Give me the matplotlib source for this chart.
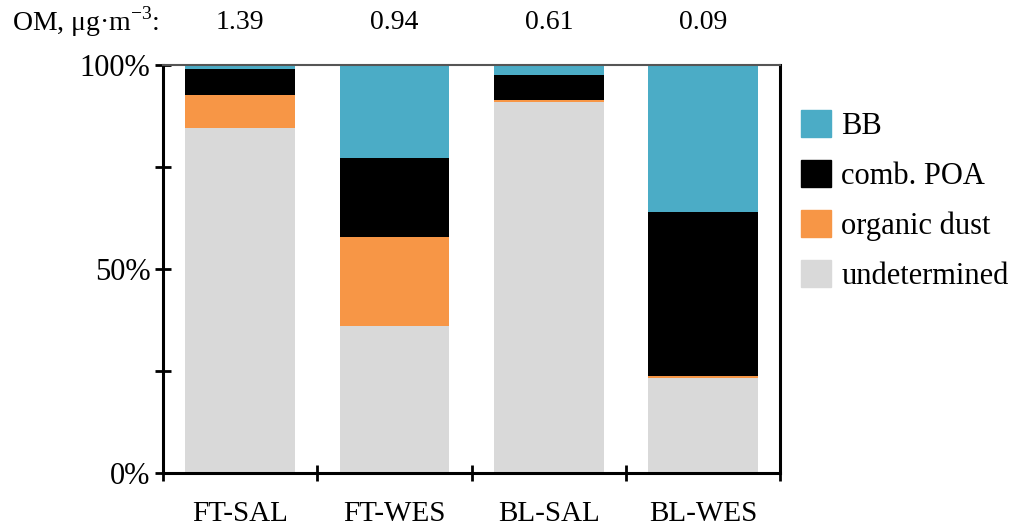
import matplotlib
matplotlib.use("Agg")
import matplotlib.pyplot as plt
import numpy as np
from matplotlib.patches import Patch

plt.rcParams['font.family'] = ['Liberation Serif', 'DejaVu Serif']
plt.rcParams['mathtext.fontset'] = 'custom'
plt.rcParams['mathtext.rm'] = 'Liberation Serif'

# source apportionment of OM, percent of total
sites = ['FT-SAL', 'FT-WES', 'BL-SAL', 'BL-WES']
om_conc = ['1.39', '0.94', '0.61', '0.09']
undetermined = [84.6, 36.0, 90.8, 23.3]
organic_dust = [8.0, 21.8, 0.6, 0.4]
comb_poa = [6.3, 19.4, 6.1, 40.3]
bb = [1.1, 22.8, 2.5, 36.0]

colors = {'BB': '#4BACC6', 'comb. POA': '#000000',
          'organic dust': '#F79646', 'undetermined': '#D9D9D9'}

fig = plt.figure(figsize=(10.11, 5.28), dpi=100)
ax = fig.add_axes([0.161, 0.104, 0.611, 0.773])

x = np.arange(len(sites))
w = 0.71
bottom = np.zeros(len(sites))
for vals, name in [(undetermined, 'undetermined'), (organic_dust, 'organic dust'),
                   (comb_poa, 'comb. POA'), (bb, 'BB')]:
    ax.bar(x, vals, w, bottom=bottom, color=colors[name], linewidth=0)
    bottom += np.array(vals)

ax.set_xlim(-0.5, len(sites) - 0.5)
ax.set_ylim(0, 100)

ax.set_yticks([0, 50, 100])
ax.set_yticklabels(['0%', '50%', '100%'], fontsize=22)
ax.set_yticks([25, 75], minor=True)
ax.tick_params(axis='y', which='both', direction='inout', length=12, width=2, pad=3)

# boundaries get the tick marks, centres get the names
ax.set_xticks(np.arange(len(sites) + 1) - 0.5)
ax.set_xticklabels([])
ax.set_xticks(x, minor=True)
ax.set_xticklabels(sites, minor=True, fontsize=21)
ax.tick_params(axis='x', which='major', direction='inout', length=12, width=2)
ax.tick_params(axis='x', which='minor', length=0, pad=20)

for side in ['left', 'bottom', 'right']:
    ax.spines[side].set_linewidth(2.2)
ax.spines['top'].set_linewidth(1.5)
ax.spines['top'].set_color('#555555')

# OM concentration row above the bars
fig.text(0.012, 0.958, 'OM, μg·m$^{\\mathregular{-3}}$:', fontsize=20, va='center', ha='left')
for xi, c in zip(x, om_conc):
    ax.text(xi, 1.105, c, transform=ax.get_xaxis_transform(), fontsize=20,
            ha='center', va='center')

handles = [Patch(color=colors[n], label=n)
           for n in ['BB', 'comb. POA', 'organic dust', 'undetermined']]
fig.legend(handles=handles, loc='upper left', bbox_to_anchor=(0.792, 0.792),
           frameon=False, fontsize=22, handlelength=1.0, handleheight=1.0,
           handletextpad=0.33, labelspacing=0.62, borderaxespad=0, borderpad=0)

fig.savefig('out.png', dpi=100)
